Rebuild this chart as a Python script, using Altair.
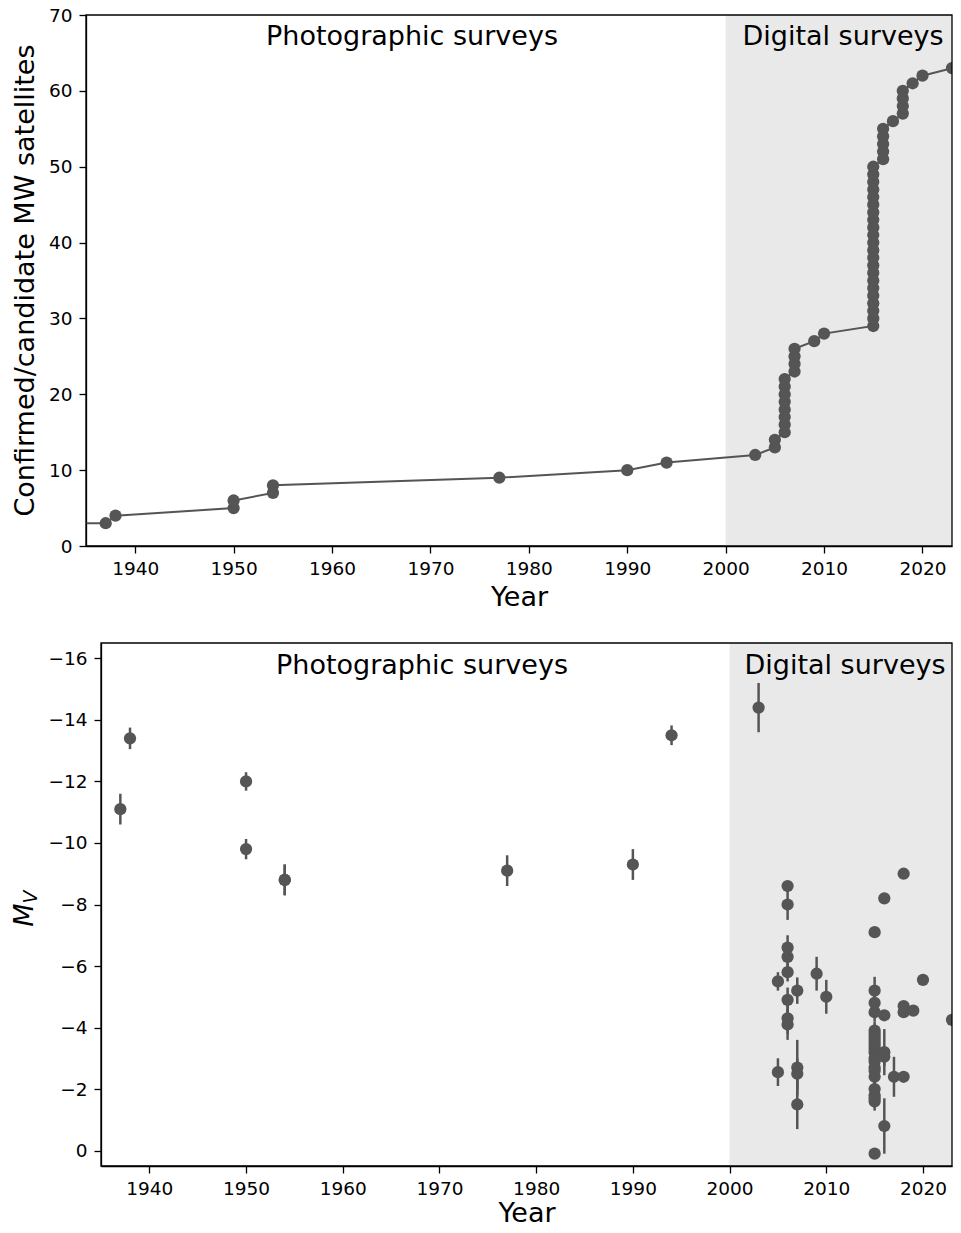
import altair as alt
import pandas as pd

# ---------------- data ----------------
# Top panel: cumulative number of known MW satellites vs discovery year
top_years = [964, 1519, 1937, 1938, 1950, 1950, 1954, 1954, 1977, 1990, 1994, 2003,
             2005, 2005,
             2006, 2006, 2006, 2006, 2006, 2006, 2006, 2006,
             2007, 2007, 2007, 2007,
             2009, 2010,
             2015, 2015, 2015, 2015, 2015, 2015, 2015, 2015, 2015, 2015, 2015,
             2015, 2015, 2015, 2015, 2015, 2015, 2015, 2015, 2015, 2015, 2015,
             2016, 2016, 2016, 2016, 2016,
             2017,
             2018, 2018, 2018, 2018,
             2019, 2020, 2023]
top_counts = [1, 2, 3, 4, 5, 6, 7, 8, 9, 10, 11, 12,
              13, 14,
              15, 16, 17, 18, 19, 20, 21, 22,
              23, 24, 25, 26,
              27, 28,
              29, 30, 31, 32, 33, 34, 35, 36, 37, 38, 39,
              40, 41, 42, 43, 44, 45, 46, 47, 48, 49, 50,
              51, 52, 53, 54, 55,
              56,
              57, 58, 59, 60,
              61, 62, 63]

# Bottom panel: absolute magnitude M_V with uncertainty
bot_years = [1937, 1938, 1950, 1950, 1954, 1954, 1977, 1990, 1994, 2003,
             2005, 2005,
             2006, 2006, 2006, 2006, 2006, 2006, 2006, 2006,
             2007, 2007, 2007, 2007,
             2009, 2010,
             2015, 2015, 2015, 2015, 2015, 2015, 2015, 2015, 2015, 2015, 2015,
             2015, 2015, 2015, 2015, 2015, 2015, 2015, 2015, 2015, 2015, 2015,
             2016, 2016, 2016, 2016, 2016,
             2017,
             2018, 2018, 2018, 2018,
             2019, 2020, 2023]
bot_mv = [-11.1, -13.4, -12.0, -9.8, -8.8, -8.8, -9.1, -9.3, -13.5, -14.4,
          -5.5, -2.55,
          -8.6, -8.0, -6.6, -6.3, -5.8, -4.9, -4.3, -4.1,
          -5.2, -2.7, -2.5, -1.5,
          -5.75, -5.0,
          -7.1, -5.2, -4.8, -4.5, -3.9, -3.8, -3.7, -3.6, -3.5, -3.4, -3.3,
          -3.2, -3.0, -2.9, -2.7, -2.6, -2.4, -2.0, -1.8, -1.6, -1.7, 0.1,
          -8.2, -4.4, -3.2, -3.05, -0.8,
          -2.4,
          -9.0, -4.7, -4.5, -2.4,
          -4.55, -5.55, -4.25]
bot_err = [0.5, 0.35, 0.3, 0.33, 0.5, 0.5, 0.5, 0.5, 0.32, 0.8,
           0.3, 0.45,
           0.1, 0.5, 0.4, 0.3, 0.3, 0.4, 0.5, 0.5,
           0.43, 0.9, 0.5, 0.8,
           0.55, 0.55,
           0.1, 0.45, 0.3, 0.3, 0.3, 0.3, 0.3, 0.3, 0.3, 0.3, 0.3,
           0.3, 0.3, 0.3, 0.3, 0.3, 0.3, 0.3, 0.3, 0.3, 0.3, 0.05,
           0.1, 0.1, 0.75, 0.3, 0.9,
           0.65,
           0.15, 0.1, 0.1, 0.15,
           0.1, 0.1, 0.1]

year_ticks = [1940, 1950, 1960, 1970, 1980, 1990, 2000, 2010, 2020]
count_ticks = [0, 10, 20, 30, 40, 50, 60, 70]
mv_ticks = [-16, -14, -12, -10, -8, -6, -4, -2, 0]
region_start = [2000]
region_end = [2023]
labels = ["Photographic surveys", "Digital surveys"]
top_ytitle = "Confirmed/candidate MW satellites"

# ---------------- style ----------------
GREY = "#555555"
SHADE = "#e9e9e9"
FONT = "DejaVu Sans"
X_DOM = [1935, 2023]
TOP_W, TOP_H = 866, 531
BOT_W, BOT_H = 866, 523
BOT_X0 = 15
PT_SIZE = 150

top_df = pd.DataFrame({"year": top_years, "count": top_counts})
bot_df = pd.DataFrame({"year": bot_years, "mv": bot_mv, "err": bot_err})
bot_df["lo"] = bot_df["mv"] - bot_df["err"]
bot_df["hi"] = bot_df["mv"] + bot_df["err"]
reg_df = pd.DataFrame({"start": region_start, "end": region_end})


def label_text(txt, x, y):
    return alt.Chart().mark_text(text=txt, font=FONT, fontSize=27, color="black",
                                 baseline="middle", align="center").encode(
        x=alt.value(x), y=alt.value(y))


# ---------------- top panel ----------------
xs_top = alt.Scale(domain=X_DOM, nice=False, zero=False)
xa = alt.Axis(values=year_ticks, format="d", title="Year", titlePadding=7)
ys_top = alt.Scale(domain=[0, 70], nice=False, zero=False)
ya_top = alt.Axis(values=count_ticks, title=None, labelPadding=7)

t_shade = alt.Chart(reg_df).mark_rect(color=SHADE).encode(
    x=alt.X("start:Q", scale=xs_top, axis=xa, title="Year"),
    x2="end:Q",
    y=alt.value(0), y2=alt.value(TOP_H))
t_line = alt.Chart(top_df).mark_line(color=GREY, strokeWidth=2, clip=True).encode(
    x=alt.X("year:Q", scale=xs_top, axis=xa, title="Year"),
    y=alt.Y("count:Q", scale=ys_top, axis=ya_top, title=None),
    order="count:Q")
t_pts = alt.Chart(top_df).mark_circle(color=GREY, size=PT_SIZE, opacity=1, clip=True).encode(
    x=alt.X("year:Q", scale=xs_top, axis=xa, title="Year"),
    y=alt.Y("count:Q", scale=ys_top, axis=ya_top, title=None))
t_txt1 = label_text(labels[0], 326, 22)
t_txt2 = label_text(labels[1], 757, 22)
t_frame = alt.Chart().mark_rect(filled=False, stroke="black", strokeWidth=1.3).encode(
    x=alt.datum(X_DOM[0]), x2=alt.datum(X_DOM[1]),
    y=alt.value(0), y2=alt.value(TOP_H))
t_ytitle = alt.Chart().mark_text(text=top_ytitle, font=FONT, fontSize=27, color="black",
                                 angle=270, baseline="alphabetic", align="center").encode(
    x=alt.value(-52), y=alt.value(TOP_H / 2))

top = alt.layer(t_shade, t_line, t_pts, t_txt1, t_txt2, t_frame, t_ytitle).properties(
    width=TOP_W, height=TOP_H)

# ---------------- bottom panel ----------------
xs_bot = alt.Scale(domain=X_DOM, nice=False, zero=False, range=[BOT_X0, BOT_W])
xa_bot = alt.Axis(values=year_ticks, format="d", title="Year", titlePadding=3)
ys_bot = alt.Scale(domain=[-16.5, 0.5], nice=False, zero=False, reverse=True)
ya_bot = alt.Axis(values=mv_ticks, title=None, offset=-BOT_X0, labelPadding=7)

b_shade = alt.Chart(reg_df).mark_rect(color=SHADE).encode(
    x=alt.X("start:Q", scale=xs_bot, axis=xa_bot, title="Year"),
    x2="end:Q",
    y=alt.value(0), y2=alt.value(BOT_H))
b_err = alt.Chart(bot_df).mark_rule(color=GREY, strokeWidth=2.5, clip=True).encode(
    x=alt.X("year:Q", scale=xs_bot, axis=xa_bot, title="Year"),
    y=alt.Y("lo:Q", scale=ys_bot, axis=ya_bot, title=None),
    y2="hi:Q")
b_pts = alt.Chart(bot_df).mark_circle(color=GREY, size=PT_SIZE, opacity=1, clip=True).encode(
    x=alt.X("year:Q", scale=xs_bot, axis=xa_bot, title="Year"),
    y=alt.Y("mv:Q", scale=ys_bot, axis=ya_bot, title=None))
b_txt1 = label_text(labels[0], 336, 23)
b_txt2 = label_text(labels[1], 759, 23)
b_frame = alt.Chart().mark_rect(filled=False, stroke="black", strokeWidth=1.3).encode(
    x=alt.datum(X_DOM[0]), x2=alt.datum(X_DOM[1]),
    y=alt.value(0), y2=alt.value(BOT_H))
b_M = alt.Chart().mark_text(text="M", font=FONT, fontSize=27, fontStyle="italic",
                            color="black", angle=270, baseline="alphabetic", align="center").encode(
    x=alt.value(-53), y=alt.value(272))
b_V = alt.Chart().mark_text(text="V", font=FONT, fontSize=19, fontStyle="italic",
                            color="black", angle=270, baseline="alphabetic", align="center").encode(
    x=alt.value(-49), y=alt.value(254))

bottom = alt.layer(b_shade, b_err, b_pts, b_txt1, b_txt2, b_frame, b_M, b_V).properties(
    width=BOT_W, height=BOT_H)

chart = alt.vconcat(top, bottom, spacing=31).properties(
    padding={"left": 3, "top": -2, "right": 0, "bottom": -4}
).configure_view(stroke=None).configure_axis(
    labelFont=FONT, titleFont=FONT, labelFontSize=18.5, titleFontSize=27,
    titleFontWeight="normal", labelColor="black", titleColor="black",
    domainColor="black", tickColor="black", domainWidth=1.3, tickWidth=1.3,
    tickSize=7, labelPadding=6, grid=False
)

chart.save("out.html", embed_options={"renderer": "svg", "actions": False})
